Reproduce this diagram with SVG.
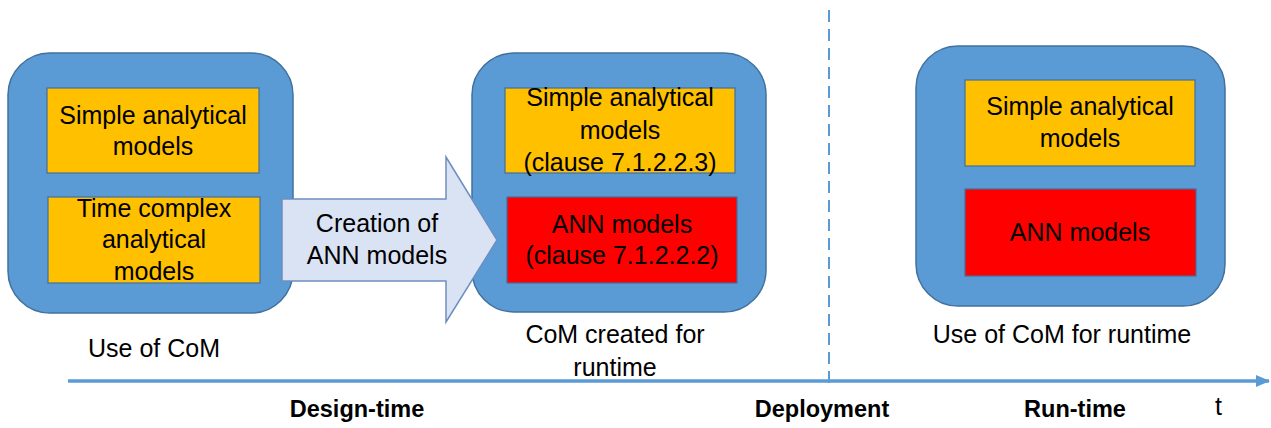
<svg xmlns="http://www.w3.org/2000/svg" width="1271" height="428" viewBox="0 0 1271 428">
<style>
.outer{fill:#5b9bd5;stroke:#41719c;stroke-width:1.5}
.yel{fill:#ffc000;stroke:#41719c;stroke-width:1.2}
.red{fill:#ff0000;stroke:#41719c;stroke-width:1.2}
text{font-family:"Liberation Sans",Arial,sans-serif;font-size:25px;fill:#000}
.c{text-anchor:middle}
.b{font-weight:bold;font-size:23.5px}
</style>
<defs>
<marker id="ah" markerWidth="14" markerHeight="12" refX="13" refY="6" orient="auto" markerUnits="userSpaceOnUse">
<path d="M0,0 L14,6 L0,12 z" fill="#5b9bd5"/>
</marker>
</defs>
<g id="connectors">
<line x1="829" y1="10" x2="829" y2="390" stroke="#5b9bd5" stroke-width="2" stroke-dasharray="12,7"/>
<line x1="68" y1="381" x2="1269" y2="381" stroke="#5b9bd5" stroke-width="3.5" marker-end="url(#ah)"/>
</g>
<g id="node-left">
<rect class="outer" x="8" y="53" width="285" height="260" rx="42"/>
<rect class="yel" x="47" y="88" width="212" height="85"/>
<text class="c" x="153" y="124">Simple analytical</text>
<text class="c" x="153" y="155">models</text>
<rect class="yel" x="48" y="197" width="212" height="86"/>
<text class="c" x="154" y="217">Time complex</text>
<text class="c" x="154" y="248">analytical</text>
<text class="c" x="154" y="280">models</text>
</g>
<g id="node-middle">
<rect class="outer" x="472" y="53" width="294" height="259" rx="42"/>
<rect class="yel" x="505" y="88" width="230" height="85"/>
<text class="c" x="620" y="106">Simple analytical</text>
<text class="c" x="620" y="139">models</text>
<text class="c" x="620" y="171">(clause 7.1.2.2.3)</text>
<rect class="red" x="507" y="197" width="230" height="86"/>
<text class="c" x="622" y="233">ANN models</text>
<text class="c" x="622" y="264">(clause 7.1.2.2.2)</text>
</g>
<g id="node-arrow">
<path d="M282,199 L446,199 L446,157 L497,240 L446,322 L446,281 L282,281 Z" fill="#dae3f3" stroke="#6d8fc0" stroke-width="1.5"/>
<text class="c" x="377" y="232">Creation of</text>
<text class="c" x="377" y="264">ANN models</text>
</g>
<g id="node-right">
<rect class="outer" x="916" y="46" width="309" height="260" rx="42"/>
<rect class="yel" x="965" y="80" width="230" height="86"/>
<text class="c" x="1080" y="115">Simple analytical</text>
<text class="c" x="1080" y="147">models</text>
<rect class="red" x="965" y="189" width="231" height="87"/>
<text class="c" x="1080" y="241">ANN models</text>
</g>
<g id="labels">
<text x="88" y="357">Use of CoM</text>
<text class="c" x="615" y="343">CoM created for</text>
<text class="c" x="615" y="376">runtime</text>
<text class="c" x="1062" y="343">Use of CoM for runtime</text>
<text class="c b" x="357" y="417">Design-time</text>
<text class="c b" x="822" y="417">Deployment</text>
<text class="c b" x="1075" y="417">Run-time</text>
<text x="1215" y="415">t</text>
</g>
</svg>
